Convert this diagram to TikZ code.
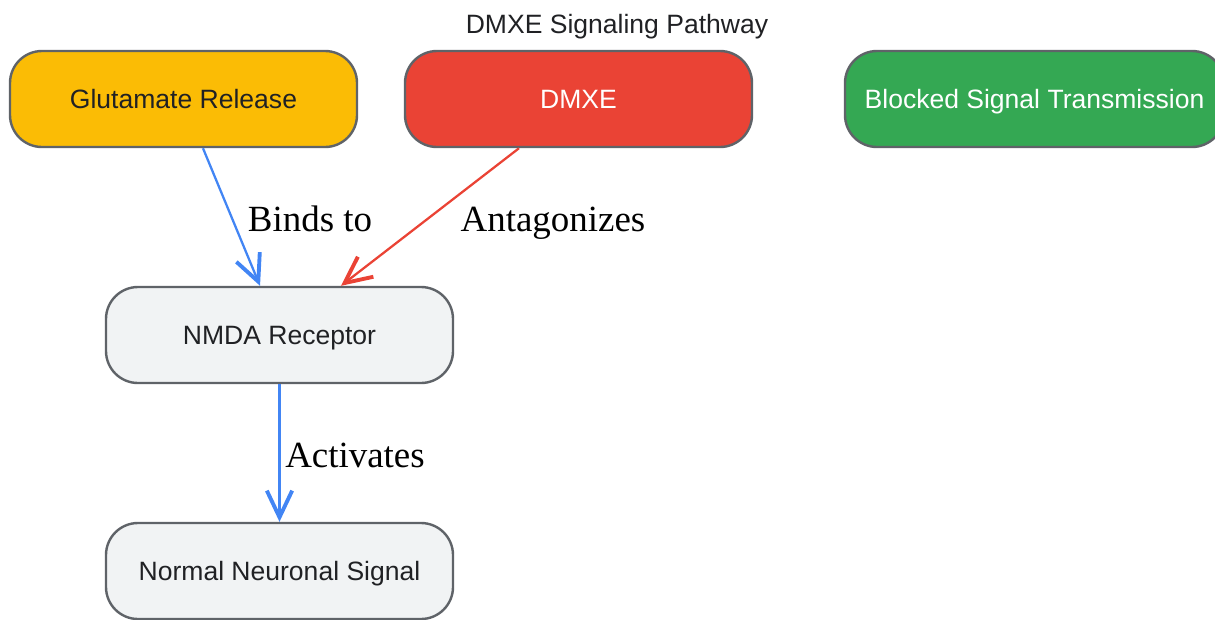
\documentclass[tikz,border=0pt]{standalone}
\usepackage{fontspec}
\setmainfont{Liberation Sans}
\newfontfamily\lblfont{Liberation Serif}
\usetikzlibrary{arrows.meta}
\definecolor{yel}{HTML}{FBBC05}
\definecolor{redc}{HTML}{EA4335}
\definecolor{grnc}{HTML}{34A853}
\definecolor{greyc}{HTML}{F1F3F4}
\definecolor{bordc}{HTML}{5F6368}
\definecolor{txtc}{HTML}{202124}
\definecolor{bluec}{HTML}{4285F4}
\begin{document}
\begin{tikzpicture}[x=0.75pt,y=-0.75pt,
  box/.style={draw=bordc, line width=1.8pt, rounded corners=24pt, minimum width=260.25pt, minimum height=72pt, inner sep=0pt, font=\fontsize{19.9}{24}\selectfont, text=txtc, text height=14.25pt, text depth=0pt},
  conn/.style={line width=1.7pt, -{Straight Barb[length=20pt, width=19pt, line width=1.2pt 1]}},
  lbl/.style={font=\lblfont\fontsize{27.7}{32}\selectfont, text=black, inner sep=0pt, text height=18.34pt, text depth=0pt}]
\useasboundingbox (0,0) rectangle (1215,619);
\node[font=\fontsize{19.9}{24}\selectfont, text=txtc, text height=14.25pt, text depth=0pt, inner sep=0pt] (title) at (617,24) {DMXE Signaling Pathway};
\node[box, fill=yel] (glu) at (183.5,99) {Glutamate Release};
\node[box, fill=redc, text=white] (dmxe) at (578.5,99) {DMXE};
\node[box, fill=grnc, text=white, minimum width=284.25pt] (blk) at (1034.5,99) {Blocked Signal Transmission};
\node[box, fill=greyc] (nmda) at (279.5,335) {NMDA Receptor};
\node[box, fill=greyc] (norm) at (279.5,571) {Normal Neuronal Signal};
\draw[conn, draw=bluec] ([xshift=14.6pt]glu.south) -- ([xshift=-14.6pt]nmda.north);
\draw[conn, draw=redc] ([xshift=-44.6pt]dmxe.south) -- ([xshift=46.1pt]nmda.north);
\draw[conn, draw=bluec] (nmda.south) -- (norm.north);
\node[lbl] (l1) at (310,219) {Binds to};
\node[lbl] (l2) at (553,219) {Antagonizes};
\node[lbl] (l3) at (355,455) {Activates};
\end{tikzpicture}
\end{document}
